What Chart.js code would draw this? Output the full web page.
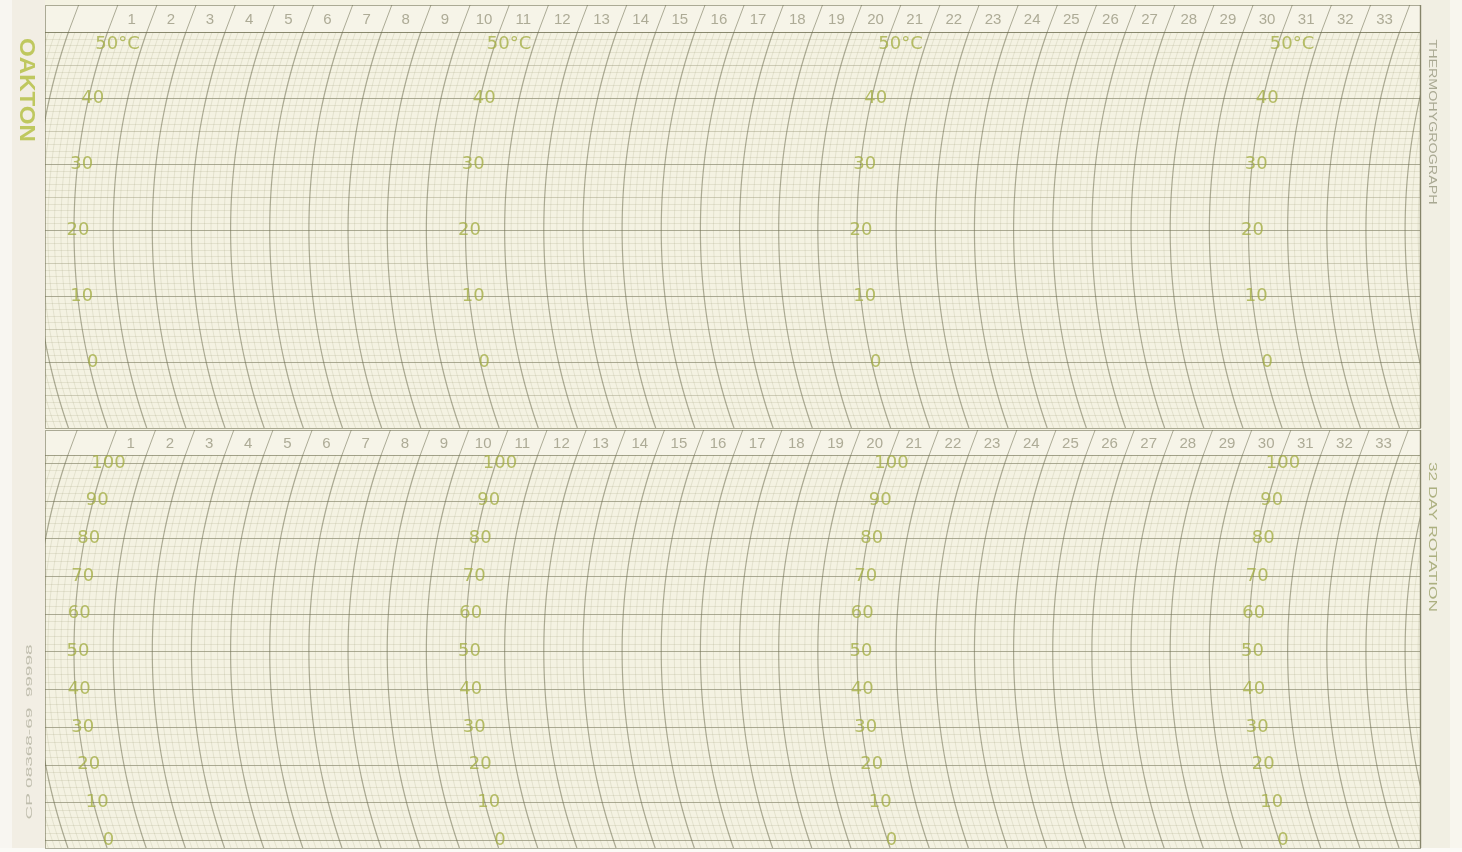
<!DOCTYPE html>
<html><head><meta charset="utf-8">
<script src="https://cdn.jsdelivr.net/npm/chart.js@4"></script>
<style>
html,body{margin:0;padding:0;background:#f6f4ea;}
#wrap{position:relative;width:1462px;height:852px;overflow:hidden;background:#f4f2e3;}
canvas{position:absolute;left:0;}
</style></head><body>
<div id="wrap">
<canvas id="cTop" width="1462" height="430" style="top:0"></canvas>
<canvas id="cBot" width="1462" height="422" style="top:430px"></canvas>
</div>
<script>
// ---- chart content ----
const dayLabels = ['1','2','3','4','5','6','7','8','9','10','11','12','13','14','15','16','17','18','19','20','21','22','23','24','25','26','27','28','29','30','31','32','33'];
const scaleLabelDays = [0, 10, 20, 30];          // arcs that carry the printed scale numbers
const tempTicks = [50, 40, 30, 20, 10, 0];
const tempTickText = ['50°C', '40', '30', '20', '10', '0'];
const humTicks = [100, 90, 80, 70, 60, 50, 40, 30, 20, 10, 0];
const humTickText = ['100', '90', '80', '70', '60', '50', '40', '30', '20', '10', '0'];
const brandText = 'OAKTON';
const topSideText = 'THERMOHYGROGRAPH';
const botSideText = '32 DAY ROTATION';
const catText = 'CP 08368-69  99998';

// ---- style ----
const R = 600;
const COL_BG = '#f4f2e2';
const COL_MINOR = 'rgba(150,148,110,0.18)';
const COL_MED = 'rgba(130,128,95,0.34)';
const COL_MAJOR = 'rgba(110,110,80,0.55)';
const COL_NUM = 'rgba(160,158,135,0.85)';
const COL_SCALE = 'rgba(165,175,70,0.8)';

function arcX(xs, d, y, cy) { const dy = y - cy; return xs.getPixelForValue(d) + R - Math.sqrt(R * R - dy * dy); }

function makePlugin(opt) {
  return {
    id: 'paper_' + opt.name,
    beforeDraw(chart) {
      const ctx = chart.ctx, ca = chart.chartArea;
      const xs = chart.scales.x, ys = chart.scales.y;
      const cy = (ca.top + ca.bottom) / 2;
      const W = chart.width, H = chart.height;
      ctx.save();
      // paper
      ctx.fillStyle = COL_BG; ctx.fillRect(0, 0, W, H);
      ctx.fillStyle = '#f2eee4'; ctx.fillRect(0, 0, ca.left, H);
      ctx.fillStyle = '#f8f6f1'; ctx.fillRect(0, 0, 12, H);
      ctx.fillStyle = '#f1efe3'; ctx.fillRect(ca.right, 0, W - ca.right, H);
      ctx.fillStyle = '#f8f6ee'; ctx.fillRect(ca.right + 30, 0, W - ca.right - 30, H);
      // header strip
      ctx.fillStyle = '#f6f4e8'; ctx.fillRect(ca.left, opt.hTop, ca.right - ca.left, opt.hBot - opt.hTop);
      if (opt.whiteBelow) { ctx.fillStyle = '#fbfaf6'; ctx.fillRect(0, ca.bottom, W, H - ca.bottom); }

      // horizontal lines
      ctx.save();
      ctx.beginPath(); ctx.rect(ca.left, ca.top, ca.right - ca.left, ca.bottom - ca.top); ctx.clip();
      for (let v = opt.hMin; v <= opt.hMax + 1e-9; v += opt.hStep) {
        const vv = Math.round(v * 100) / 100;
        const y = Math.round(ys.getPixelForValue(vv)) + 0.5;
        let c = COL_MINOR;
        if (vv % opt.majorEvery === 0) c = COL_MAJOR; else if (vv % opt.medEvery === 0) c = COL_MED;
        ctx.strokeStyle = c; ctx.lineWidth = 1;
        ctx.beginPath(); ctx.moveTo(ca.left, y); ctx.lineTo(ca.right, y); ctx.stroke();
      }
      // arcs
      for (let k = -12; k <= 36 * 6; k++) {
        const d = k / 6;
        const major = k % 6 === 0;
        ctx.strokeStyle = major ? COL_MAJOR : COL_MINOR;
        ctx.lineWidth = major ? 1.2 : 1;
        ctx.beginPath();
        for (let y = ca.top; y <= ca.bottom; y += 4) {
          const x = arcX(xs, d, y, cy);
          if (y === ca.top) ctx.moveTo(x, y); else ctx.lineTo(x, y);
        }
        ctx.lineTo(arcX(xs, d, ca.bottom, cy), ca.bottom);
        ctx.stroke();
      }
      ctx.restore();

      // header separators (continuation of day arcs)
      ctx.save();
      ctx.beginPath(); ctx.rect(ca.left, opt.hTop, ca.right - ca.left, opt.hBot - opt.hTop); ctx.clip();
      ctx.strokeStyle = COL_MAJOR; ctx.lineWidth = 1;
      for (let d = -1; d <= 36; d++) {
        ctx.beginPath();
        ctx.moveTo(arcX(xs, d, opt.hTop, cy), opt.hTop);
        ctx.lineTo(arcX(xs, d, opt.hBot, cy), opt.hBot);
        ctx.stroke();
      }
      ctx.restore();

      // borders
      ctx.strokeStyle = COL_MAJOR; ctx.lineWidth = 1;
      ctx.strokeRect(Math.round(ca.left) + 0.5, Math.round(opt.hTop) + 0.5, Math.round(ca.right - ca.left), Math.round(ca.bottom - opt.hTop));
      ctx.beginPath(); ctx.moveTo(ca.left, Math.round(ca.top) + 0.5); ctx.lineTo(ca.right, Math.round(ca.top) + 0.5); ctx.stroke();
      ctx.strokeStyle = 'rgba(115,114,85,0.65)'; ctx.lineWidth = 1.5;
      ctx.beginPath(); ctx.moveTo(ca.right + 0.5, opt.hTop); ctx.lineTo(ca.right + 0.5, ca.bottom); ctx.stroke();

      // day numbers
      ctx.fillStyle = COL_NUM; ctx.font = '15px "Liberation Sans", Arial, sans-serif';
      ctx.textAlign = 'center'; ctx.textBaseline = 'middle';
      const hy = (opt.hTop + opt.hBot) / 2 + 1;
      dayLabels.forEach((t, i) => {
        const x = arcX(xs, i + 0.5, hy, cy);
        ctx.fillText(t, x, hy);
      });

      // printed scale values along arcs
      ctx.fillStyle = COL_SCALE; ctx.font = '18px "DejaVu Sans", sans-serif';
      scaleLabelDays.forEach(d => {
        opt.ticks.forEach((v, i) => {
          let y = ys.getPixelForValue(v);
          let dx = 4;
          if (opt.firstBelow && i === 0) { y += 12; dx = 14; }
          ctx.fillText(opt.texts[i], arcX(xs, d, y, cy) + dx, y);
        });
      });

      // side texts
      opt.side(ctx, ca);
      ctx.restore();
    }
  };
}

function baseOptions(xMin, xMax, yMin, yMax, pad) {
  return {
    responsive: false, animation: false, events: [],
    layout: { padding: pad },
    plugins: { legend: { display: false }, tooltip: { enabled: false } },
    scales: {
      x: { type: 'linear', min: xMin, max: xMax, display: false },
      y: { type: 'linear', min: yMin, max: yMax, display: false }
    }
  };
}

const PX_PER_DAY = 39.15, X0 = 74, LEFT = 45, RIGHT = 1420;
const xMin = (LEFT - X0) / PX_PER_DAY, xMax = (RIGHT - X0) / PX_PER_DAY;

// top: temperature panel
new Chart(document.getElementById('cTop'), {
  type: 'scatter',
  data: { datasets: [{ data: [] }] },
  options: baseOptions(xMin, xMax, -10, 50, { left: LEFT, right: 1462 - RIGHT, top: 32, bottom: 2 }),
  plugins: [makePlugin({
    name: 'temp', hTop: 5, hBot: 32, hMin: -10, hMax: 50, hStep: 1, majorEvery: 10, medEvery: 5,
    ticks: tempTicks, texts: tempTickText, firstBelow: true,
    side(ctx, ca) {
      ctx.save();
      ctx.translate(26, 90); ctx.rotate(Math.PI / 2);
      ctx.font = 'bold 22px "Liberation Sans", Arial, sans-serif';
      const w = ctx.measureText(brandText).width; ctx.scale(104 / w, 1);
      ctx.fillStyle = 'rgba(185,195,80,0.9)'; ctx.textAlign = 'center'; ctx.textBaseline = 'middle';
      ctx.fillText(brandText, 0, 0);
      ctx.restore();
      ctx.save();
      ctx.translate(1432, 122); ctx.rotate(Math.PI / 2);
      ctx.font = '10px "Liberation Sans", Arial, sans-serif';
      const w2 = ctx.measureText(topSideText).width; ctx.scale(165 / w2, 1);
      ctx.fillStyle = 'rgba(150,150,125,0.8)'; ctx.textAlign = 'center'; ctx.textBaseline = 'middle';
      ctx.fillText(topSideText, 0, 0);
      ctx.restore();
    }
  })]
});

// bottom: humidity panel
new Chart(document.getElementById('cBot'), {
  type: 'scatter',
  data: { datasets: [{ data: [] }] },
  options: baseOptions(xMin, xMax, -2.1, 102.1, { left: LEFT, right: 1462 - RIGHT, top: 25, bottom: 4 }),
  plugins: [makePlugin({
    name: 'hum', hTop: 0, hBot: 25, hMin: 0, hMax: 102, hStep: 2, majorEvery: 10, medEvery: 10,
    ticks: humTicks, texts: humTickText, firstBelow: false, whiteBelow: true,
    side(ctx, ca) {
      ctx.save();
      ctx.translate(1432, 107); ctx.rotate(Math.PI / 2);
      ctx.font = '11px "Liberation Sans", Arial, sans-serif';
      const w = ctx.measureText(botSideText).width; ctx.scale(150 / w, 1);
      ctx.fillStyle = 'rgba(160,165,110,0.85)'; ctx.textAlign = 'center'; ctx.textBaseline = 'middle';
      ctx.fillText(botSideText, 0, 0);
      ctx.restore();
      ctx.save();
      ctx.translate(30, 302); ctx.rotate(-Math.PI / 2);
      ctx.font = '9px "Liberation Sans", Arial, sans-serif';
      const w3 = ctx.measureText(catText).width; ctx.scale(175 / w3, 1);
      ctx.fillStyle = 'rgba(170,168,150,0.7)'; ctx.textAlign = 'center'; ctx.textBaseline = 'middle';
      ctx.fillText(catText, 0, 0);
      ctx.restore();
    }
  })]
});
</script>
</body></html>
